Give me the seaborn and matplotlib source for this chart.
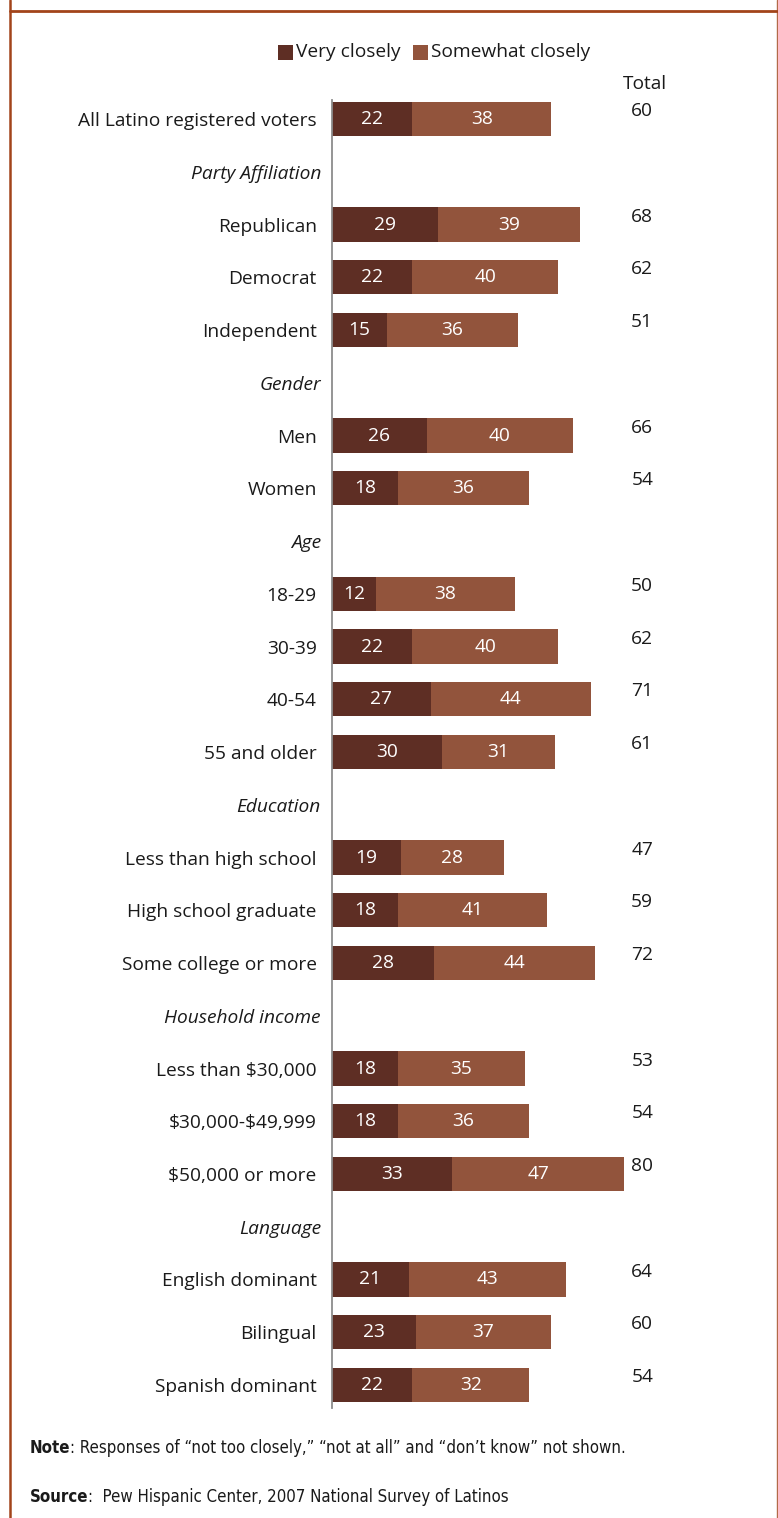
import matplotlib
matplotlib.use("Agg")
import matplotlib.pyplot as plt
import matplotlib.transforms as mtransforms
import seaborn as sns
import pandas as pd
from matplotlib.lines import Line2D
from matplotlib.patches import Rectangle

# Rows of the chart, top to bottom; italic group headers carry no bars
row_labels = [
    "All Latino registered voters",
    "Party Affiliation", "Republican", "Democrat", "Independent",
    "Gender", "Men", "Women",
    "Age", "18-29", "30-39", "40-54", "55 and older",
    "Education", "Less than high school", "High school graduate", "Some college or more",
    "Household income", "Less than $30,000", "$30,000-$49,999", "$50,000 or more",
    "Language", "English dominant", "Bilingual", "Spanish dominant",
]
headers = ["Party Affiliation", "Gender", "Age", "Education", "Household income", "Language"]

categories = [
    "All Latino registered voters", "Republican", "Democrat", "Independent",
    "Men", "Women", "18-29", "30-39", "40-54", "55 and older",
    "Less than high school", "High school graduate", "Some college or more",
    "Less than $30,000", "$30,000-$49,999", "$50,000 or more",
    "English dominant", "Bilingual", "Spanish dominant",
]
very_closely = [22, 29, 22, 15, 26, 18, 12, 22, 27, 30, 19, 18, 28, 18, 18, 33, 21, 23, 22]
somewhat_closely = [38, 39, 40, 36, 40, 36, 38, 40, 44, 31, 28, 41, 44, 35, 36, 47, 43, 37, 32]
totals = [60, 68, 62, 51, 66, 54, 50, 62, 71, 61, 47, 59, 72, 53, 54, 80, 64, 60, 54]

DARK = "#5E2E24"
LIGHT = "#92543C"
FRAME = "#A2441A"
INK = "#1a1a1a"
FS = 13.8

df = pd.DataFrame({
    "group": categories,
    "very": very_closely,
    "somewhat": somewhat_closely,
    "total": totals,
})
df["stack"] = df["very"] + df["somewhat"]

sns.set_theme(style="white")
plt.rcParams["font.family"] = ["Open Sans", "DejaVu Sans"]
plt.rcParams["text.parse_math"] = False

W, H = 778, 1518
fig = plt.figure(figsize=(W / 100, H / 100), dpi=100)

# axes placed in pixel terms: zero line at x=332, 3.65 px per point
ax_left, ax_right = 332, 332 + 100 * 3.65
ax_top, ax_bot = 100, 1408
ax = fig.add_axes([ax_left / W, 1 - ax_bot / H, (ax_right - ax_left) / W, (ax_bot - ax_top) / H])

sns.barplot(data=df, y="group", x="stack", order=row_labels, orient="h",
            color=LIGHT, saturation=1, width=0.65, ax=ax, errorbar=None, linewidth=0)
sns.barplot(data=df, y="group", x="very", order=row_labels, orient="h",
            color=DARK, saturation=1, width=0.65, ax=ax, errorbar=None, linewidth=0)

row_h = 52.75
ax.set_ylim((ax_bot - 119) / row_h, (ax_top - 119) / row_h)
ax.set_xlim(0, 100)
ax.set_xlabel("")
ax.set_ylabel("")
ax.set_xticks([])

for s in ["top", "right", "bottom"]:
    ax.spines[s].set_visible(False)
ax.spines["left"].set_color("#8C8C8C")
ax.spines["left"].set_linewidth(1.3)

ax.set_yticks(range(len(row_labels)))
ax.set_yticklabels(row_labels)
ax.tick_params(axis="y", length=0, pad=11, labelsize=FS, labelcolor=INK)
# group headers: italic, nudged slightly right
nudge = mtransforms.ScaledTranslation(3 / 72, 0, fig.dpi_scale_trans)
for lbl in ax.get_yticklabels():
    if lbl.get_text() in headers:
        lbl.set_fontstyle("italic")
        lbl.set_transform(lbl.get_transform() + nudge)

# segment values and totals
for _, r in df.iterrows():
    yi = row_labels.index(r["group"])
    ax.text(r["very"] / 2, yi, f"{r['very']}", ha="center", va="center",
            color="white", fontsize=FS)
    ax.text(r["very"] + r["somewhat"] / 2, yi, f"{r['somewhat']}", ha="center",
            va="center", color="white", fontsize=FS)
    ax.text(85.0, yi - 0.15, f"{r['total']}", ha="center", va="center",
            color=INK, fontsize=FS)

# legend row
def px(x, y):
    return x / W, 1 - y / H

fig.patches.append(Rectangle(px(278, 60), 15 / W, 15 / H, transform=fig.transFigure,
                             facecolor=DARK, edgecolor="none"))
fig.text(*px(296, 52), "Very closely", ha="left", va="center", fontsize=FS, color=INK)
fig.patches.append(Rectangle(px(413, 60), 15 / W, 15 / H, transform=fig.transFigure,
                             facecolor=LIGHT, edgecolor="none"))
fig.text(*px(431, 52), "Somewhat closely", ha="left", va="center", fontsize=FS, color=INK)
fig.text(*px(645, 84), "Total", ha="center", va="center", fontsize=FS, color=INK)

# footnotes: bold lead word followed by regular text
foot = dict(fontsize=12.1, family=["DejaVu Sans"], fontstretch="condensed", color=INK)


def footnote(y, lead, rest):
    t = fig.text(*px(30, y), lead, ha="left", va="center", weight="bold", **foot)
    fig.canvas.draw()
    bb = t.get_window_extent()
    fig.text(bb.x1 / W, 1 - y / H, rest, ha="left", va="center", **foot)


footnote(1448, "Note",
         ": Responses of \u201cnot too closely,\u201d \u201cnot at all\u201d and \u201cdon\u2019t know\u201d not shown.")
footnote(1497, "Source", ":  Pew Hispanic Center, 2007 National Survey of Latinos")

# frame lines
fig.add_artist(Line2D([10 / W, 10 / W], [0, 1], transform=fig.transFigure, color=FRAME, lw=1.8))
fig.add_artist(Line2D([777 / W, 777 / W], [0, 1], transform=fig.transFigure, color="#B26A48", lw=1.0))
fig.add_artist(Line2D([10 / W, 1], [1 - 11 / H, 1 - 11 / H], transform=fig.transFigure, color=FRAME, lw=2.0))

fig.savefig("out.png", dpi=100, facecolor="white")
